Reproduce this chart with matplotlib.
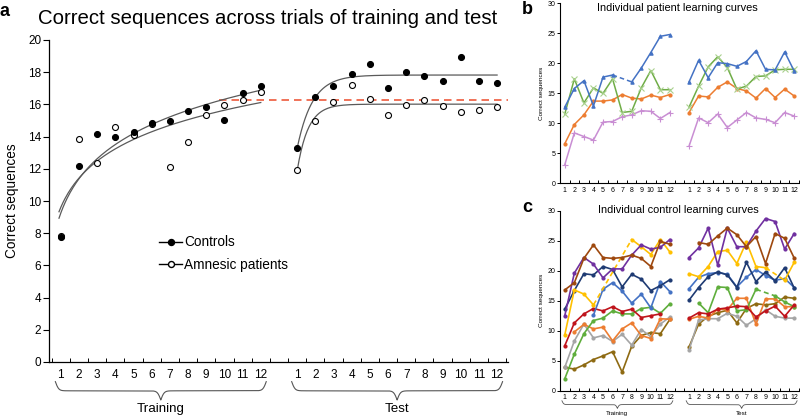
import numpy as np
import matplotlib
matplotlib.use("Agg")
import matplotlib.pyplot as plt
from matplotlib.lines import Line2D

plt.rcParams['font.family'] = ['Liberation Sans', 'DejaVu Sans']

nan = np.nan

# ------------------------------------------------------------
# data
# ------------------------------------------------------------
trial_labels = [str(t) for t in range(1, 13)]
train_x = np.arange(1, 13)
test_x = np.arange(14, 26)

# panel a: group means
ctrl_train = [7.75, 12.17, 14.19, 13.96, 14.29, 14.83, 14.94, 15.56, 15.81, 15.02, 16.71, 17.17]
ctrl_test = [13.27, 16.48, 17.15, 17.9, 18.52, 17.04, 18.02, 17.77, 17.44, 18.96, 17.46, 17.33]
amn_train = [7.85, 13.85, 12.37, 14.58, 14.12, 14.8, 12.10, 13.65, 15.33, 15.94, 16.29, 16.77]
amn_test = [11.9, 14.96, 16.17, 17.19, 16.31, 15.35, 15.98, 16.27, 15.9, 15.52, 15.67, 15.83]
amn_ref_level = 16.3
amn_ref_start = 9.7

# panel b: individual patients
pat_blue_train = [12.7, 15.8, 17.1, 12.9, 17.7, 18.05, nan, 16.9, 19.2, 21.8, 24.5, 24.8]
pat_blue_test = [16.9, 20.5, 17.6, 20.1, 19.95, 19.5, 20.3, 22.1, 19.0, 18.9, 21.9, 18.7]
pat_green_train = [11.55, 17.4, 13.4, 15.9, 15.0, 17.4, 11.8, 12.0, 15.9, 18.8, 15.6, 15.6]
pat_green_test = [12.7, 16.2, 19.4, 21.1, 19.3, 15.7, 16.2, 17.8, 17.9, 18.9, 19.0, 19.0]
pat_orange_train = [6.6, 9.8, 11.4, 13.7, 13.7, 13.9, 14.8, 14.2, 14.05, 14.7, 14.3, 14.8]
pat_orange_test = [11.8, 14.55, 14.4, 16.0, 16.9, 15.8, 15.4, 14.2, 15.8, 14.3, 15.7, 14.55]
pat_purple_train = [3.1, 8.4, 7.8, 7.2, 10.2, 10.3, 11.1, 11.4, 12.1, 12.0, 10.8, 11.8]
pat_purple_test = [6.2, 10.9, 10.1, 11.55, 9.3, 10.55, 11.8, 10.9, 10.65, 10.1, 11.8, 11.2]

# panel c: individual controls
brown_train = [16.8, 18.0, 22.05, 24.3, 22.2, 22.05, 22.2, 22.6, 22.05, 20.7, 24.9, 24.4]
brown_test = [nan, 24.7, 24.4, 25.8, 27.1, 26.0, 24.0, 25.7, 21.2, 26.2, 25.4, 22.1]
purple_train = [12.5, 19.6, 22.2, 21.1, 18.8, 20.3, 20.3, 22.6, 24.3, 23.6, 23.9, 25.2]
purple_test = [22.2, 23.8, 27.1, 20.9, 27.1, 24.0, 24.0, 26.6, 28.7, 28.2, 23.6, 26.2]
yellow_train = [9.3, 16.8, 16.1, 14.3, nan, nan, nan, 25.2, 24.0, 22.7, 25.2, 23.1]
yellow_test = [19.5, 19.0, 20.7, 23.2, 23.4, 21.2, 24.8, 20.7, 20.5, nan, 18.4, 21.4]
navy_train = [13.6, 16.7, 19.5, 19.3, 20.7, 20.2, 17.3, 19.4, 18.6, 16.7, 17.5, 18.5]
navy_test = [15.1, 17.2, 19.0, 19.8, 19.3, 17.2, 21.4, 18.2, 19.8, 18.3, 20.5, 17.1]
blue_train = [nan, nan, nan, 12.6, 16.9, 18.0, 16.6, 14.6, 16.1, 13.8, 18.2, 16.5]
blue_test = [17.0, 18.9, 19.5, 19.7, 19.4, 17.3, 18.9, 20.2, 19.2, 18.4, 18.7, 17.2]
red_train = [7.5, 11.3, 12.8, 13.7, 13.3, 14.0, 13.2, 13.6, 12.2, 12.5, 12.8, nan]
red_test = [12.1, 13.0, 12.8, 13.6, 13.8, 14.1, 14.0, 12.3, 13.3, 14.1, 12.4, 14.3]
green_train = [2.0, 6.1, 9.5, 11.7, 12.1, 13.3, 12.8, 12.8, 13.7, 13.9, 12.9, 14.5]
green_test = [nan, 14.6, 13.0, 17.3, 17.2, 13.3, 13.5, 16.9, nan, 15.8, 14.8, 14.0]
orange_train = [nan, 9.8, 11.05, 10.3, 10.6, 8.3, 10.3, 11.3, 9.2, 8.7, 12.0, 11.9]
orange_test = [11.9, 12.4, 12.1, 13.6, 13.5, 15.4, 15.4, 11.1, 15.3, 15.3, 14.0, 14.0]
gray_train = [3.9, 8.3, 11.1, 8.8, 9.2, 8.2, 9.4, 7.6, 10.2, 9.0, 11.1, 12.3]
gray_test = [6.8, 11.8, 12.0, 12.0, 12.9, 12.4, 10.9, 12.0, 13.5, 12.4, 12.1, 12.1]
olive_train = [3.9, 3.6, 4.3, 5.2, 5.8, 6.5, 3.1, 7.4, 9.2, 9.7, 9.5, 11.9]
olive_test = [7.3, 11.1, 12.4, 13.0, 13.4, 11.3, 13.7, 14.5, 14.3, 14.5, 15.6, 15.4]


# ------------------------------------------------------------
# helpers
# ------------------------------------------------------------
def log_fit(x, y):
    b, a = np.polyfit(np.log(x), y, 1)
    return a, b


def exp_fit(t, y):
    best = None
    for k in np.linspace(0.2, 4, 381):
        A = np.column_stack([np.ones_like(t), np.exp(-k * t)])
        coef = np.linalg.lstsq(A, y, rcond=None)[0]
        r = np.sum((A @ coef - y) ** 2)
        if best is None or r < best[0]:
            best = (r, k, coef)
    return best[1], best[2]


def brace(ax, x0, x1, y_top, h, beta, color='#555555', lw=0.8):
    n = 401
    xs = np.linspace(x0, x1, n)
    half = xs[: n // 2 + 1]
    yh = 1 / (1 + np.exp(-beta * (half - half[0]))) + 1 / (1 + np.exp(-beta * (half - half[-1])))
    yv = np.concatenate([yh, yh[-2::-1]])
    yv = y_top - (yv - yh[0]) * h
    ax.plot(xs, yv, color=color, lw=lw, transform=ax.get_xaxis_transform(), clip_on=False)


def series(ax, xs, ys, color, marker, ms, mfc=None, mec=None, lw=1.1, mew=0.8):
    xs = np.asarray(xs, float)
    ys = np.asarray(ys, float)
    ax.plot(xs, ys, color=color, lw=lw, marker=marker, ms=ms, mew=mew,
            mfc=mfc or color, mec=mec or color)
    idx = np.where(~np.isnan(ys))[0]
    for i, j in zip(idx[:-1], idx[1:]):
        if j - i > 1:
            ax.plot([xs[i], xs[j]], [ys[i], ys[j]], color=color, lw=lw, ls=(0, (3, 2)))


def trial_axis(ax, labelsize, pad, minor_len):
    all_x = np.concatenate([train_x, test_x])
    ax.set_xticks(all_x)
    ax.set_xticklabels(trial_labels + trial_labels)
    edges = np.concatenate([train_x - 0.5, [train_x[-1] + 0.5], test_x - 0.5, [test_x[-1] + 0.5]])
    ax.set_xticks(edges, minor=True)
    ax.tick_params(axis='x', which='major', length=0, pad=pad, labelsize=labelsize)
    ax.tick_params(axis='x', which='minor', length=minor_len, direction='in', width=0.7)
    for s in ('top', 'right'):
        ax.spines[s].set_visible(False)


fig = plt.figure(figsize=(8, 4.18), dpi=100)
W, H = 800, 418

# ------------------------------------------------------------
# panel a
# ------------------------------------------------------------
ax = fig.add_axes([49 / W, 1 - 362 / H, 459 / W, 322 / H])
ax.set_xlim(0.35, 25.6)
ax.set_ylim(0, 20)

curve_col = '#5a5a5a'
xs_tr = np.linspace(0.9, 12, 200)
for y in (ctrl_train, amn_train):
    a, b = log_fit(train_x, y)
    ax.plot(xs_tr, a + b * np.log(xs_tr), color=curve_col, lw=0.9, zorder=2)
t_fine = np.linspace(0, 11, 200)
for y in (ctrl_test, amn_test):
    k, coef = exp_fit((test_x - test_x[0]).astype(float), np.asarray(y))
    ax.plot(test_x[0] + t_fine, coef[0] + coef[1] * np.exp(-k * t_fine), color=curve_col, lw=0.9, zorder=2)

ax.plot([amn_ref_start, 25.6], [amn_ref_level, amn_ref_level], color='#ee5a3c', lw=1.2,
        ls=(0, (4.5, 3)), zorder=1)

ms = 4.3
for xx, y in ((train_x, amn_train), (test_x, amn_test)):
    ax.plot(xx, y, ls='none', marker='o', ms=ms, mfc='white', mec='black', mew=0.8, zorder=3)
for xx, y in ((train_x, ctrl_train), (test_x, ctrl_test)):
    ax.plot(xx, y, ls='none', marker='o', ms=ms, mfc='black', mec='black', mew=0.8, zorder=4)

trial_axis(ax, 8.5, 5, 3)
ax.set_yticks(range(0, 21, 2))
ax.tick_params(axis='y', length=4, width=0.8, pad=1.5, labelsize=8.5)
for s in ('left', 'bottom'):
    ax.spines[s].set_linewidth(0.9)
ax.set_ylabel('Correct sequences', fontsize=9.8)
ax.yaxis.set_label_coords(-0.066, 0.5)

handles = [Line2D([], [], color='black', lw=1, marker='o', ms=ms, mfc='black', mec='black'),
           Line2D([], [], color='black', lw=1, marker='o', ms=ms, mfc='white', mec='black')]
ax.legend(handles, ['Controls', 'Amnesic patients'], loc='upper left',
          bbox_to_anchor=(0.2397, 0.393), frameon=False, fontsize=9.8, handlelength=1.7,
          handletextpad=0.15, labelspacing=0.6, borderpad=0, borderaxespad=0)

brace(ax, train_x[0] - 0.3, train_x[-1] + 0.3, -0.061, 0.057, 11)
brace(ax, test_x[0] - 0.3, test_x[-1] + 0.3, -0.061, 0.057, 11)
ax.text(train_x.mean(), -0.145, 'Training', transform=ax.get_xaxis_transform(),
        ha='center', va='center', fontsize=9.6)
ax.text(test_x.mean(), -0.145, 'Test', transform=ax.get_xaxis_transform(),
        ha='center', va='center', fontsize=9.6)

fig.text(268 / W, 1 - 18 / H, 'Correct sequences across trials of training and test',
         ha='center', va='center', fontsize=14.7)
fig.text(4 / W, 1 - 12 / H, 'a', ha='center', va='center', fontsize=13, fontweight='bold')

# ------------------------------------------------------------
# panel b
# ------------------------------------------------------------
axb = fig.add_axes([560 / W, 1 - 183.3 / H, 239 / W, 180 / H])
axb.set_xlim(0.58, 25.35)
axb.set_ylim(0, 30)
pat_series = [
    (pat_orange_train, pat_orange_test, '#ED7D31', 'o', 2.2, None, None),
    (pat_purple_train, pat_purple_test, '#C98ED3', '+', 4, None, None),
    (pat_green_train, pat_green_test, '#70AD47', 'x', 4, '#A9D18E', '#A9D18E'),
    (pat_blue_train, pat_blue_test, '#4472C4', '^', 2.4, None, None),
]
for tr, te, col, mk, msz, mfc, mec in pat_series:
    series(axb, train_x, tr, col, mk, msz, mfc, mec)
    series(axb, test_x, te, col, mk, msz, mfc, mec)

# ------------------------------------------------------------
# panel c
# ------------------------------------------------------------
axc = fig.add_axes([560 / W, 1 - 390.7 / H, 239 / W, 180 / H])
axc.set_xlim(0.58, 25.35)
axc.set_ylim(0, 30)
ctrl_series = [
    (olive_train, olive_test, '#8E6A12'),
    (gray_train, gray_test, '#A5A5A5'),
    (orange_train, orange_test, '#ED7D31'),
    (green_train, green_test, '#5FAE3C'),
    (red_train, red_test, '#C0141C'),
    (blue_train, blue_test, '#4472C4'),
    (navy_train, navy_test, '#1F3B73'),
    (yellow_train, yellow_test, '#FFC000'),
    (purple_train, purple_test, '#7030A0'),
    (brown_train, brown_test, '#9E480E'),
]
for tr, te, col in ctrl_series:
    series(axc, train_x, tr, col, 'o', 2.2, lw=1.2)
    series(axc, test_x, te, col, 'o', 2.2, lw=1.2)

for a_ in (axb, axc):
    trial_axis(a_, 5, 2.5, 2)
    a_.set_yticks(range(0, 31, 5))
    a_.tick_params(axis='y', length=2, width=0.7, pad=1.5, labelsize=5)
    for s in ('left', 'bottom'):
        a_.spines[s].set_linewidth(0.8)
    a_.set_ylabel('Correct sequences', fontsize=4.6)
    a_.yaxis.set_label_coords(-0.067, 0.5)

brace(axc, train_x[0] - 0.3, train_x[-1] + 0.3, -0.056, 0.042, 11, lw=0.6)
brace(axc, test_x[0] - 0.3, test_x[-1] + 0.3, -0.056, 0.042, 11, lw=0.6)
axc.text(train_x.mean(), -0.129, 'Training', transform=axc.get_xaxis_transform(),
         ha='center', va='center', fontsize=4.5)
axc.text(test_x.mean(), -0.129, 'Test', transform=axc.get_xaxis_transform(),
         ha='center', va='center', fontsize=4.5)

fig.text(677 / W, 1 - 8 / H, 'Individual patient learning curves', ha='center', va='center', fontsize=7.9)
fig.text(678 / W, 1 - 210 / H, 'Individual control learning curves', ha='center', va='center', fontsize=7.9)
fig.text(527 / W, 1 - 9 / H, 'b', ha='center', va='center', fontsize=13, fontweight='bold')
fig.text(527 / W, 1 - 208 / H, 'c', ha='center', va='center', fontsize=13, fontweight='bold')

fig.savefig('out.png', dpi=100)
